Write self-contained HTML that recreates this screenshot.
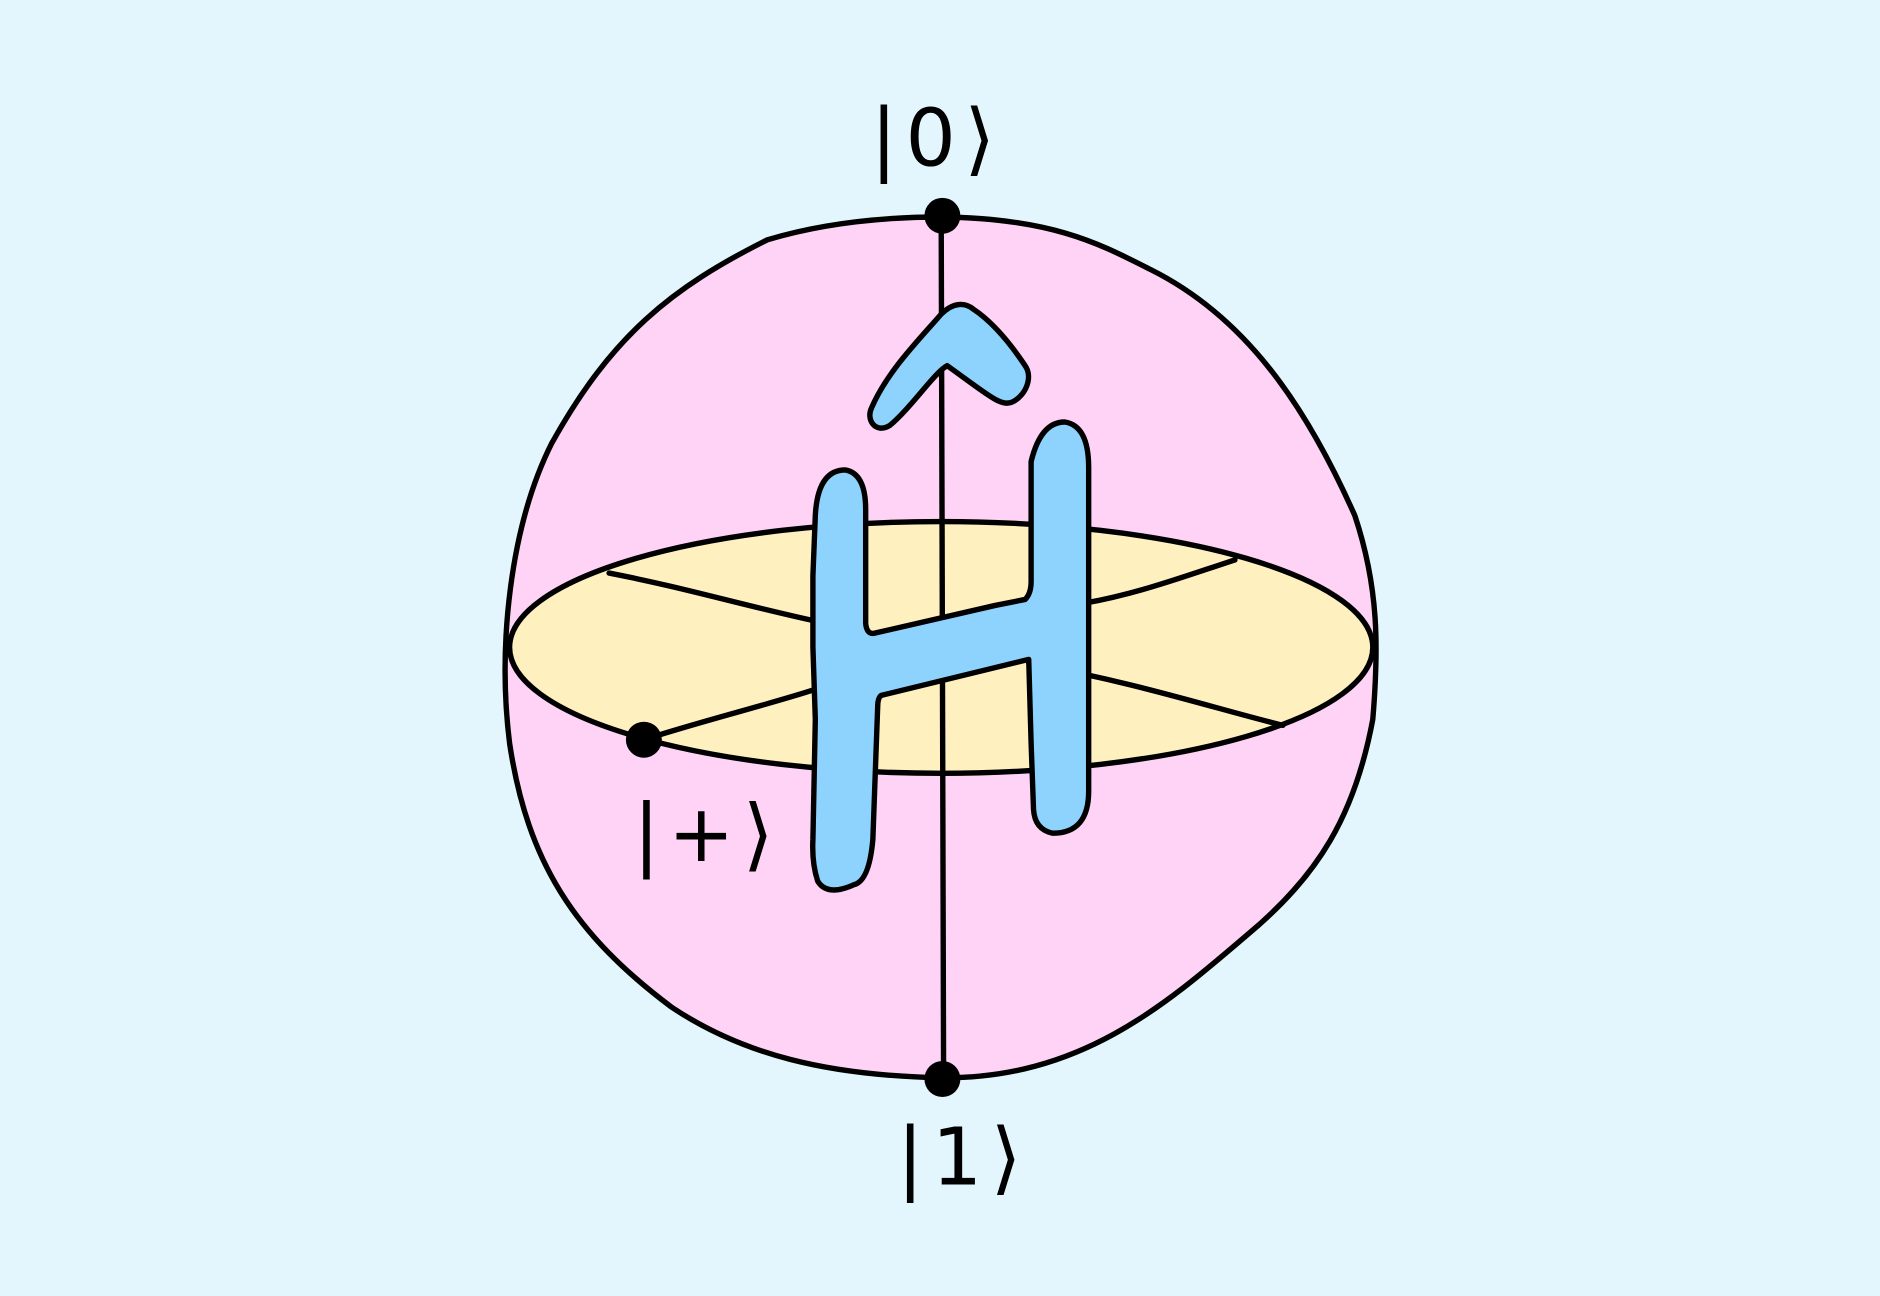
<!DOCTYPE html>
<html><head><meta charset="utf-8"><style>
html,body{margin:0;padding:0;background:#e4f6fd;}
svg{display:block;}
text{font-family:"DejaVu Sans","Liberation Sans",sans-serif;font-size:66px;fill:#000;letter-spacing:7px;font-weight:normal;}
</style></head><body>
<svg width="1880" height="1296" viewBox="0 0 1568 1081" xmlns="http://www.w3.org/2000/svg">
<rect x="0" y="0" width="1568" height="1081" fill="#e4f6fd"/>
<g stroke="#000" stroke-width="4.5" stroke-linejoin="round" stroke-linecap="round">
<path fill="#ffd3f5" d="M785 181 C 880 182 920 205 960 225 C 1040 265 1090 340 1130 430 C 1150 490 1150 540 1145 600 C 1130 680 1100 730 1040 780 C 970 840 900 900 785 899 C 690 897 620 880 560 840 C 480 780 440 720 425 620 C 415 540 425 440 460 370 C 510 280 560 240 640 200 C 690 185 740 181 785 181 Z"/>
<ellipse cx="785" cy="540" rx="360" ry="105" fill="#fff0c0"/>
<path fill="none" d="M508 478 C 570 490 620 505 680 518"/>
<path fill="none" d="M905 503 C 950 495 990 480 1030 467"/>
<path fill="none" d="M537 617 C 590 600 640 588 680 575"/>
<path fill="none" d="M858 553 C 950 570 1010 590 1070 605"/>
<line x1="785" y1="181" x2="787" y2="899"/>
<path fill="#8ed3fd" d="M727 340 C 740 310 765 285 785 262 C 795 252 805 252 812 258 C 830 270 845 290 855 305 C 862 315 855 330 845 335 C 835 340 825 330 790 305 C 780 310 760 340 742 355 C 730 362 722 350 727 340 Z"/>
<path fill="#8ed3fd" d="M680 430 Q 682 392 705 392 Q 722 395 722 425 L 722 520 Q 723 530 730 528 L 830 505 L 855 500 Q 860 495 860 485 L 860 385 Q 868 352 888 352 Q 908 355 908 390 L 908 660 Q 908 695 878 695 Q 863 692 862 675 L 860 620 L 858 550 L 735 580 Q 732 582 732 590 L 728 700 Q 725 735 712 738 Q 690 748 682 735 Q 677 720 678 700 L 680 600 L 678 540 L 678 480 Z"/>
</g>
<circle cx="786" cy="180" r="15" fill="#000"/>
<circle cx="786" cy="900" r="15" fill="#000"/>
<circle cx="537" cy="617" r="15" fill="#000"/>
<text x="726" y="138">|0⟩</text>
<text x="748" y="988">|1⟩</text>
<text x="528" y="718">|+⟩</text>
</svg>
</body></html>
